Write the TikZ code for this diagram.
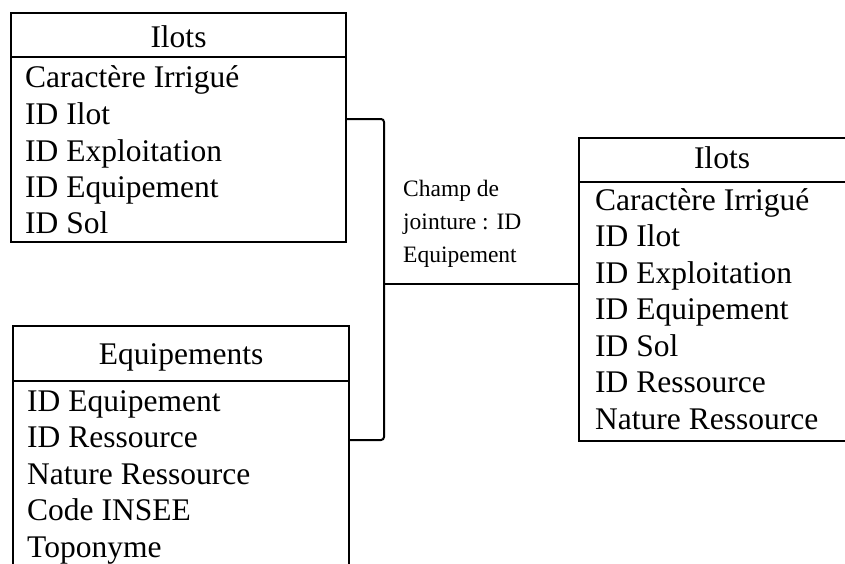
\documentclass[tikz,border=0pt]{standalone}
\usepackage{fontspec}
\setmainfont{Liberation Serif}
\usetikzlibrary{positioning}

\begin{document}
\begin{tikzpicture}[
	x=1pt, y=-1pt,
	frame/.style={ draw, line width=2.4pt },
	link/.style={ draw, line width=2pt, rounded corners=3pt },
	title/.style={ anchor=base, inner sep=0pt, font=\fontsize{31.5}{36}\selectfont },
	field/.style={ anchor=base west, inner sep=0pt, font=\fontsize{31.5}{36}\selectfont },
	note/.style={ anchor=north west, inner sep=0pt, align=left, font=\fontsize{23.5}{33}\selectfont }
]
\useasboundingbox (0,0) rectangle (845,563);

% table Ilots (left)
\draw[frame] (11,13) rectangle (346,242);
\draw[frame] (11,57) -- (346,57);
\node[title] (t1) at (178.5,47) {Ilots};
\node[field] (t1f1) at (25,87) {Caractère Irrigué};
\node[field] (t1f2) at (25,124) {ID Ilot};
\node[field] (t1f3) at (25,161) {ID Exploitation};
\node[field] (t1f4) at (25,197) {ID Equipement};
\node[field] (t1f5) at (25,233) {ID Sol};

% table Equipements
\draw[frame] (13,565) |- (349,326) -- (349,565);
\draw[frame] (13,381) -- (349,381);
\node[title] (t2) at (181,364) {Equipements};
\node[field] (t2f1) at (27,411) {ID Equipement};
\node[field] (t2f2) at (27,447.5) {ID Ressource};
\node[field] (t2f3) at (27,484) {Nature Ressource};
\node[field] (t2f4) at (27,520.5) {Code INSEE};
\node[field] (t2f5) at (27,557) {Toponyme};

% table Ilots (right, result)
\draw[frame] (850,138) -| (579,441) -- (850,441);
\draw[frame] (579,182) -- (850,182);
\node[title] (t3) at (722,168) {Ilots};
\node[field] (t3f1) at (595,210) {Caractère Irrigué};
\node[field] (t3f2) at (595,246.5) {ID Ilot};
\node[field] (t3f3) at (595,283) {ID Exploitation};
\node[field] (t3f4) at (595,319.5) {ID Equipement};
\node[field] (t3f5) at (595,356) {ID Sol};
\node[field] (t3f6) at (595,392.5) {ID Ressource};
\node[field] (t3f7) at (595,429) {Nature Ressource};

% join
\coordinate (jtop) at (346,119);
\coordinate (jbot) at (349,440);
\coordinate (jmid) at (384,284);
\coordinate (jout) at (579,284);
\draw[link] (jtop) -- (jmid |- jtop) -- (jmid |- jbot) -- (jbot);
\draw[link] (jmid) -- (jout);
\node[note] (jlabel) at (403,180) {Champ de\\jointure : ID\\Equipement};

\end{tikzpicture}
\end{document}
